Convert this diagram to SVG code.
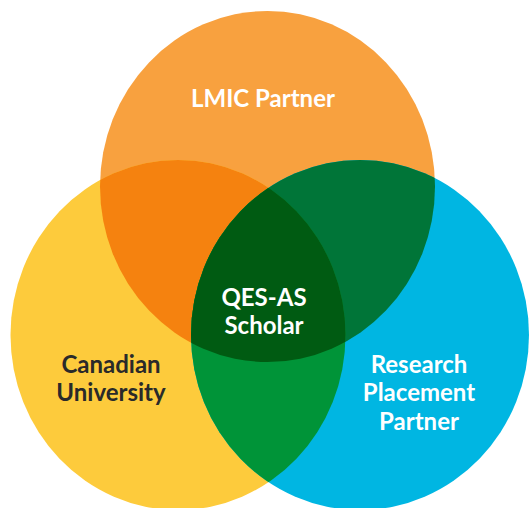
<svg xmlns="http://www.w3.org/2000/svg" width="529" height="508" viewBox="0 0 529 508">
  <style>
    .lbl { font-family: Lato, "Open Sans", "Liberation Sans", sans-serif; font-weight: 700; font-size: 24px; text-anchor: middle; }
    .w { fill: #ffffff; }
    .d { fill: #2a2a2a; }
  </style>
  <defs>
    <ellipse id="eTop" cx="267.5" cy="186.5" rx="167.5" ry="175.5"/>
    <ellipse id="eLeft" cx="178" cy="335" rx="167.5" ry="175"/>
    <ellipse id="eRight" cx="360" cy="335" rx="169" ry="175"/>
    <clipPath id="cTop"><use href="#eTop"/></clipPath>
    <clipPath id="cLeft"><use href="#eLeft"/></clipPath>
    <clipPath id="cRight"><use href="#eRight"/></clipPath>
  </defs>
  <rect width="529" height="508" fill="#ffffff"/>
  <g id="lmic-partner">
    <use href="#eTop" fill="#F8A13F"/>
  </g>
  <g id="canadian-university">
    <use href="#eLeft" fill="#FDCB3C"/>
  </g>
  <g id="research-placement-partner">
    <use href="#eRight" fill="#00B6E2"/>
  </g>
  <g id="overlaps">
    <g clip-path="url(#cLeft)"><use href="#eTop" fill="#F5820F"/></g>
    <g clip-path="url(#cRight)"><use href="#eTop" fill="#007538"/></g>
    <g clip-path="url(#cRight)"><use href="#eLeft" fill="#009438"/></g>
    <g clip-path="url(#cRight)"><g clip-path="url(#cLeft)"><use href="#eTop" fill="#005B12"/></g></g>
  </g>
  <g id="labels">
    <text class="lbl w" x="263" y="107">LMIC Partner</text>
    <text class="lbl w" x="264" y="306">QES-AS</text>
    <text class="lbl w" x="264" y="334">Scholar</text>
    <text class="lbl d" x="111" y="373">Canadian</text>
    <text class="lbl d" x="111" y="401">University</text>
    <text class="lbl w" x="419" y="373">Research</text>
    <text class="lbl w" x="419" y="401">Placement</text>
    <text class="lbl w" x="419" y="430">Partner</text>
  </g>
</svg>
